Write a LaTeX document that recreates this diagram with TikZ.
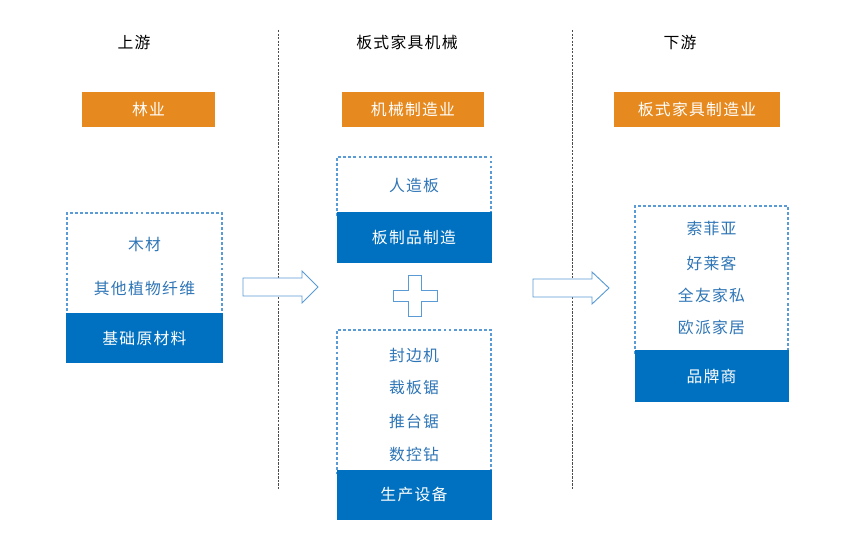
\documentclass[tikz,border=0pt]{standalone}
\usepackage{fontspec}
\setmainfont[LetterSpace=8]{Noto Sans CJK SC}
\usetikzlibrary{positioning}

\definecolor{chainblue}{HTML}{0070C0}
\definecolor{chainlight}{HTML}{5B9BD5}
\definecolor{chaintext}{HTML}{2E75B6}
\definecolor{chainorange}{HTML}{E6891E}

\tikzset{
  every node/.style={font=\fontsize{13.5}{15}\selectfont},
  head/.style={text=black},
  orangebox/.style={fill=chainorange, text=white, minimum height=1.05cm},
  bluebox/.style={fill=chainblue, text=white},
  dashbox/.style={draw=chainlight, dash pattern=on 2.5pt off 1.8pt, line width=1.1pt},
  item/.style={text=chaintext},
  sepline/.style={gray!60!black, dash pattern=on 2pt off 1pt, line width=0.6pt},
  hollow/.style={draw=chainlight, fill=white, line width=0.8pt, line join=miter}
}

\begin{document}
\begin{tikzpicture}[x=0.03cm, y=-0.03cm]
        \useasboundingbox (0,0) rectangle (852,537);
        % separators
        \foreach \x in {278,572} {
            \draw[sepline] (\x,30) -- (\x,490);
        }
        % headings
        \node[head] (up) at (134,42) {上游};
        \node[head] (mid) at (407,42) {板式家具机械};
        \node[head] (down) at (680,42) {下游};
        \node[orangebox, minimum width=3.99cm] (forest) at (148.5,109.5) {林业};
        \node[orangebox, minimum width=4.26cm] (machine) at (413,109.5) {机械制造业};
        \node[orangebox, minimum width=4.98cm] (furniture) at (697,109.5) {板式家具制造业};
        % upstream
        \node[dashbox, minimum width=4.65cm, minimum height=3.12cm] (rawlist) at (144.5,265) {};
        \node[bluebox, minimum width=4.68cm, minimum height=1.5cm] (raw) at (144.5,338) {基础原材料};
        \node[item] (wood) at (144.5,244) {木材};
        \node[item] (fibre) at (144.5,288) {其他植物纤维};
        % midstream
        \node[dashbox, minimum width=4.62cm, minimum height=1.77cm] (boardlist) at (414,186.5) {};
        \node[bluebox, minimum width=4.65cm, minimum height=1.53cm] (board) at (414,237.5) {板制品制造};
        \node[item] (panel) at (414,186) {人造板};
        \node[dashbox, minimum width=4.62cm, minimum height=4.32cm] (equiplist) at (414,402) {};
        \node[bluebox, minimum width=4.65cm, minimum height=1.5cm] (equip) at (414,495) {生产设备};
        \foreach \t/\y [count=\i] in {封边机/356,裁板锯/388,推台锯/421,数控钻/454} {
            \node[item] (tool\i) at (414,\y) {\t};
        }
        % downstream
        \node[dashbox, minimum width=4.59cm, minimum height=4.44cm] (brandlist) at (711.5,280) {};
        \node[bluebox, minimum width=4.62cm, minimum height=1.56cm] (brand) at (711.5,376) {品牌商};
        \foreach \t/\y [count=\i] in {索菲亚/228,好莱客/263,全友家私/295,欧派家居/327} {
            \node[item] (firm\i) at (711.5,\y) {\t};
        }
        % hollow arrows and plus
        \draw[hollow] (243,278) -- (302,278) -- (302,271) -- (318,287) -- (302,303) -- (302,296) -- (243,296) -- cycle;
        \draw[hollow] (533,279) -- (592,279) -- (592,272) -- (609,288) -- (592,304) -- (592,297) -- (533,297) -- cycle;
        \draw[hollow] (408,275) -- (421,275) -- (421,290) -- (437,290) -- (437,301) -- (421,301)
            -- (421,316) -- (408,316) -- (408,301) -- (393,301) -- (393,290) -- (408,290) -- cycle;
    \end{tikzpicture}
\end{document}
